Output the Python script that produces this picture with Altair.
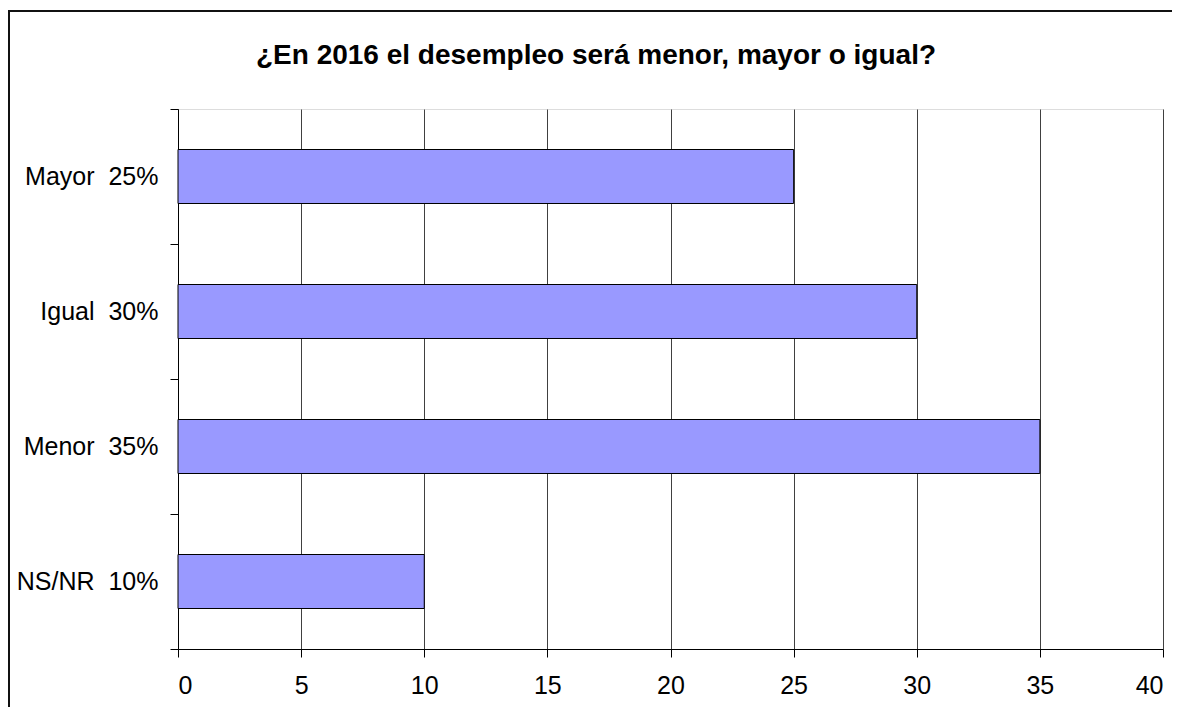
import altair as alt
import pandas as pd

categories = ["Mayor", "Igual", "Menor", "NS/NR"]
values = [25, 30, 35, 10]
percent_labels = ["25%", "30%", "35%", "10%"]
x_ticks = [0, 5, 10, 15, 20, 25, 30, 35, 40]
title_text = "¿En 2016 el desempleo será menor, mayor o igual?"

labels = [f"{c}\u00a0\u00a0{p}" for c, p in zip(categories, percent_labels)]
df = pd.DataFrame({"label": labels, "value": values})

FONT = "Liberation Sans"

bars = alt.Chart(df).mark_bar(
    color="#9999FF", stroke="#000000", strokeWidth=1, height={"band": 0.4}
).encode(
    x=alt.X(
        "value:Q",
        scale=alt.Scale(domain=[0, 40], nice=False, zero=True),
        axis=alt.Axis(
            values=x_ticks, title=None, grid=True, gridColor="#404040",
            gridWidth=1, tickSize=8, tickColor="#000000", domainColor="#000000",
            labelFontSize=25, labelColor="#000000", labelPadding=16,
            labelFont=FONT,
        ),
    ),
    y=alt.Y(
        "label:N",
        sort=labels,
        scale=alt.Scale(paddingInner=0, paddingOuter=0),
        axis=alt.Axis(
            title=None, tickBand="extent", tickSize=8, tickColor="#000000",
            domainColor="#000000", labelFontSize=25, labelColor="#000000",
            labelPadding=12, labelFont=FONT, grid=False,
        ),
    ),
)

frame = alt.Chart(pd.DataFrame({"a": [0]})).mark_rect(
    fill=None, stroke="#111111", strokeWidth=2
).encode(
    x=alt.value(-169), x2=alt.value(1300), y=alt.value(-98), y2=alt.value(800)
)

title = alt.Chart(pd.DataFrame({"t": [title_text]})).mark_text(
    font=FONT, fontSize=28, fontWeight="bold", color="#000000",
    align="center", baseline="alphabetic",
).encode(
    text="t:N", x=alt.value(418), y=alt.value(-45)
)

chart = alt.layer(frame, bars, title).properties(
    width=985,
    height=540,
    padding={"left": 170, "top": 101, "right": 9, "bottom": 58},
    autosize=alt.AutoSizeParams(type="none"),
).configure_view(stroke="#808080", strokeWidth=1).configure(background="white")

chart.save("out.html", embed_options={"renderer": "svg", "actions": False})
